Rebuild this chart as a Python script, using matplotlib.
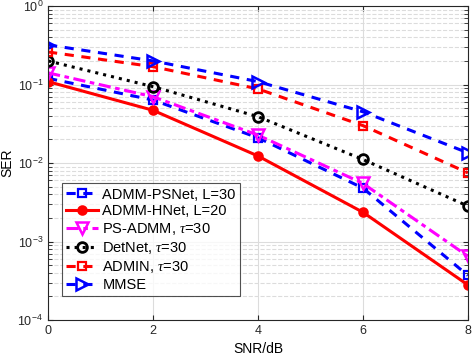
import numpy as np
import matplotlib
matplotlib.use("Agg")
import matplotlib.pyplot as plt
from matplotlib.ticker import LogLocator, NullFormatter

plt.rcParams['font.family'] = ['Liberation Sans', 'DejaVu Sans']
plt.rcParams['mathtext.fontset'] = 'custom'
plt.rcParams['mathtext.rm'] = 'Liberation Sans'
plt.rcParams['mathtext.it'] = 'Liberation Serif:italic'

# SNR points
snr = [0, 2, 4, 6, 8]

# SER values
psnet = [0.12, 0.0635, 0.021, 0.0048, 0.00037]
hnet = [0.109, 0.047, 0.0123, 0.00236, 0.00028]
ps_admm = [0.141, 0.070, 0.0227, 0.0055, 0.00065]
detnet = [0.20, 0.094, 0.039, 0.0111, 0.00283]
admin = [0.26, 0.169, 0.088, 0.030, 0.0075]
mmse = [0.32, 0.20, 0.109, 0.045, 0.0135]

labels = ["ADMM-PSNet, L=30", "ADMM-HNet, L=20", r"PS-ADMM, $\tau$=30",
          r"DetNet, $\tau$=30", r"ADMIN, $\tau$=30", "MMSE"]

fig = plt.figure(figsize=(4.76, 3.56), dpi=100)
ax = fig.add_axes([0.101, 0.101, 0.882, 0.882])

lw = 2.2
ax.semilogy(snr, psnet, color='blue', ls=(0, (3, 2.5)), lw=lw, marker='s', ms=6,
            mfc='none', mew=1.6, label=labels[0])
ax.semilogy(snr, hnet, color='red', ls='-', lw=lw, marker='o', ms=6,
            mfc='red', mew=1.6, label=labels[1])
ax.semilogy(snr, ps_admm, color='magenta', ls=(0, (4, 1.5, 1.5, 1.5)), lw=lw, marker='v', ms=8,
            mfc='none', mew=1.8, label=labels[2])
ax.semilogy(snr, detnet, color='black', ls=':', lw=lw, marker='o', ms=7,
            mfc='none', mew=2, label=labels[3])
ax.semilogy(snr, admin, color='red', ls=(0, (3, 2.5)), lw=lw, marker='s', ms=6,
            mfc='none', mew=1.6, label=labels[4])
ax.semilogy(snr, mmse, color='blue', ls=(0, (3, 2.5)), lw=lw, marker='>', ms=8,
            mfc='none', mew=1.8, label=labels[5])

ax.set_xlim(0, 8)
ax.set_ylim(1e-4, 1)
ax.set_xticks(snr)
ax.yaxis.set_major_locator(LogLocator(base=10, numticks=10))
ax.yaxis.set_minor_locator(LogLocator(base=10, subs=np.arange(2, 10), numticks=10))
ax.yaxis.set_minor_formatter(NullFormatter())

ax.grid(True, which='major', color='#dcdcdc', lw=0.8, ls='-')
ax.grid(True, which='minor', axis='y', color='#dcdcdc', lw=0.8, ls='--')
ax.set_axisbelow(True)

ax.tick_params(which='both', direction='in', top=True, right=True, labelsize=9, colors='#262626')
ax.tick_params(which='minor', length=3)
for s in ax.spines.values():
    s.set_color('#262626')
    s.set_linewidth(0.8)

ax.set_xlabel("SNR/dB", fontsize=10, labelpad=4)
ax.set_ylabel("SER", fontsize=10, labelpad=2)

leg = ax.legend(loc='lower left', bbox_to_anchor=(0.032, 0.075), fontsize=10.5,
                frameon=True, fancybox=False, edgecolor='#262626', handlelength=2.2,
                handletextpad=0.3, labelspacing=0.2, borderpad=0.3, borderaxespad=0)
leg.get_frame().set_linewidth(0.8)

fig.savefig("out.png", dpi=100)
